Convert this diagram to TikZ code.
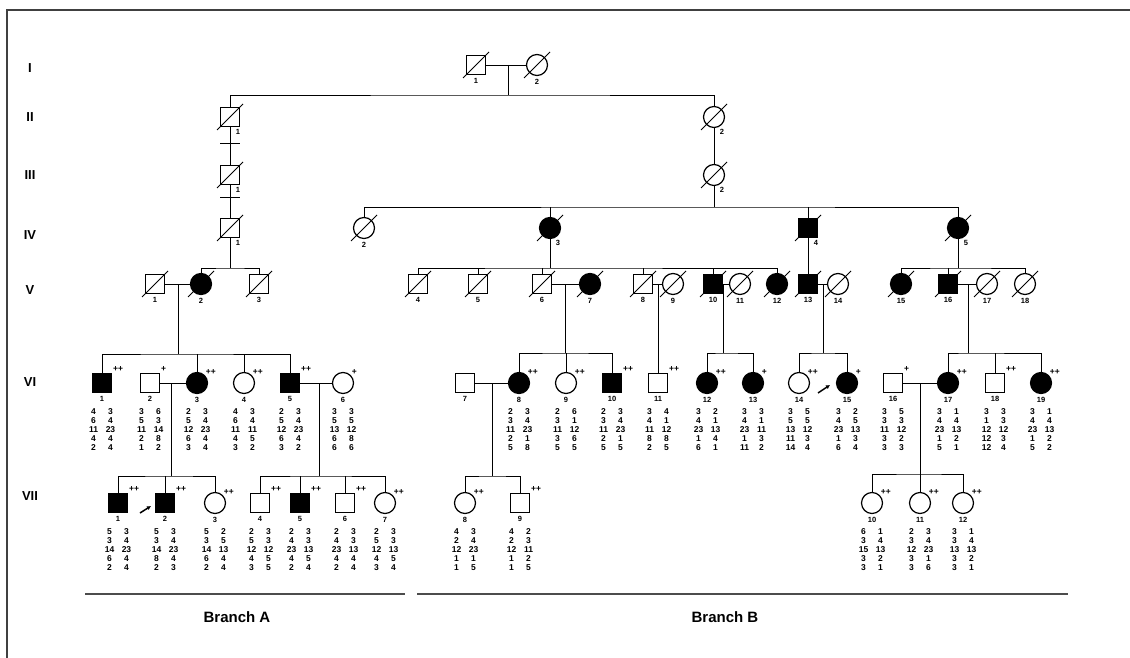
\documentclass[tikz,border=0pt]{standalone}
\usepackage{fontspec}
\setmainfont{Liberation Sans}
\usetikzlibrary{arrows.meta, positioning}
\tikzset{
  male/.style={rectangle, draw, minimum size=19pt, inner sep=0pt, line width=1.2pt},
  female/.style={circle, draw, minimum size=21pt, inner sep=0pt, line width=1.2pt},
  aff/.style={fill=black},
  numlab/.style={font=\fontsize{7.5}{8}\selectfont\bfseries, inner sep=0pt},
  idn/.style={label={[numlab, label distance=3pt]below:#1}},
  idr/.style={label={[numlab, label distance=2pt]-65:#1}},
  stat/.style={label={[font=\fontsize{8.5}{9}\selectfont\bfseries, inner sep=0pt, label distance=1pt]45:#1}},
  hapcol/.style={font=\fontsize{8.5}{9}\selectfont\bfseries, align=center, inner sep=0pt, anchor=north},
  genlab/.style={font=\fontsize{13}{14}\selectfont\bfseries, inner sep=0pt},
  branchlab/.style={font=\fontsize{15}{16}\selectfont\bfseries, inner sep=0pt},
  slash/.style={line width=0.9pt},
  proband/.style={line width=1.5pt, -{Latex[length=4pt, width=4.5pt]}}
}
\newcommand{\haplo}[3]{%
  \node (#1a) [hapcol] at ([xshift=-8.5pt, yshift=-25pt]#1.center) {#2};
  \node (#1b) [hapcol] at ([xshift=8.5pt, yshift=-25pt]#1.center) {#3};
}

\begin{document}
\begin{tikzpicture}[x=1pt, y=-1pt, line width=0.8pt]
  \useasboundingbox (0,0) rectangle (1130,658);
  \draw[line width=1.3pt, black!75] (7,658) -- (7,10) -- (1130,10);

  % generation labels
  \node (gI)   [genlab] at (30,68)  {I};
  \node (gII)  [genlab] at (30,117) {II};
  \node (gIII) [genlab] at (30,175) {III};
  \node (gIV)  [genlab] at (30,235) {IV};
  \node (gV)   [genlab] at (30,290) {V};
  \node (gVI)  [genlab] at (30,382) {VI};
  \node (gVII) [genlab] at (30,496) {VII};

  % generation I - IV
  \node (I1)   [male, idn=1]   at (476,65) {};
  \node (I2)   [female, idn=2] at (537,65) {};
  \node (II1)  [male, idr=1]   at (230,117) {};
  \node (II2)  [female, idr=2] at (714,117) {};
  \node (III1) [male, idr=1]   at (230,175) {};
  \node (III2) [female, idr=2] at (714,175) {};
  \node (IV1)  [male, idr=1]   at (230,228) {};
  \node (IV2)  [female, idn=2] at (364,228) {};
  \node (IV3)  [female, aff, idr=3] at (550,228) {};
  \node (IV4)  [male, aff, idr=4]   at (808,228) {};
  \node (IV5)  [female, aff, idr=5] at (958,228) {};

  % generation V
  \node (V1)  [male, idn=1]        at (155,284) {};
  \node (V2)  [female, aff, idn=2] at (201,284) {};
  \node (V3)  [male, idn=3]        at (259,284) {};
  \node (V4)  [male, idn=4]        at (418,284) {};
  \node (V5)  [male, idn=5]        at (478,284) {};
  \node (V6)  [male, idn=6]        at (542,284) {};
  \node (V7)  [female, aff, idn=7] at (590,284) {};
  \node (V8)  [male, idn=8]        at (643,284) {};
  \node (V9)  [female, idn=9]      at (673,284) {};
  \node (V10) [male, aff, idn=10]  at (713,284) {};
  \node (V11) [female, idn=11]     at (740,284) {};
  \node (V12) [female, aff, idn=12] at (777,284) {};
  \node (V13) [male, aff, idn=13]  at (808,284) {};
  \node (V14) [female, idn=14]     at (838,284) {};
  \node (V15) [female, aff, idn=15] at (901,284) {};
  \node (V16) [male, aff, idn=16]  at (948,284) {};
  \node (V17) [female, idn=17]     at (987,284) {};
  \node (V18) [female, idn=18]     at (1025,284) {};

  % generation VI
  \node (VI1)  [male, aff, idn=1, stat=++]    at (102,383) {};
  \node (VI2)  [male, idn=2, stat=+]          at (150,383) {};
  \node (VI3)  [female, aff, idn=3, stat=++]  at (197,383) {};
  \node (VI4)  [female, idn=4, stat=++]       at (244,383) {};
  \node (VI5)  [male, aff, idn=5, stat=++]    at (290,383) {};
  \node (VI6)  [female, idn=6, stat=+]        at (343,383) {};
  \node (VI7)  [male, idn=7]                  at (465,383) {};
  \node (VI8)  [female, aff, idn=8, stat=++]  at (519,383) {};
  \node (VI9)  [female, idn=9, stat=++]       at (566,383) {};
  \node (VI10) [male, aff, idn=10, stat=++]   at (612,383) {};
  \node (VI11) [male, idn=11, stat=++]        at (658,383) {};
  \node (VI12) [female, aff, idn=12, stat=++] at (707,383) {};
  \node (VI13) [female, aff, idn=13, stat=+]  at (753,383) {};
  \node (VI14) [female, idn=14, stat=++]      at (799,383) {};
  \node (VI15) [female, aff, idn=15, stat=+]  at (847,383) {};
  \node (VI16) [male, idn=16, stat=+]         at (893,383) {};
  \node (VI17) [female, aff, idn=17, stat=++] at (948,383) {};
  \node (VI18) [male, idn=18, stat=++]        at (995,383) {};
  \node (VI19) [female, aff, idn=19, stat=++] at (1041,383) {};

  % generation VII
  \node (VII1)  [male, aff, idn=1, stat=++] at (118,503) {};
  \node (VII2)  [male, aff, idn=2, stat=++] at (165,503) {};
  \node (VII3)  [female, idn=3, stat=++]    at (215,503) {};
  \node (VII4)  [male, idn=4, stat=++]      at (260,503) {};
  \node (VII5)  [male, aff, idn=5, stat=++] at (300,503) {};
  \node (VII6)  [male, idn=6, stat=++]      at (345,503) {};
  \node (VII7)  [female, idn=7, stat=++]    at (385,503) {};
  \node (VII8)  [female, idn=8, stat=++]    at (465,503) {};
  \node (VII9)  [male, idn=9, stat=++]      at (520,503) {};
  \node (VII10) [female, idn=10, stat=++]   at (872,503) {};
  \node (VII11) [female, idn=11, stat=++]   at (920,503) {};
  \node (VII12) [female, idn=12, stat=++]   at (963,503) {};

  % deceased
  \foreach \p in {I1,I2,II1,II2,III1,III2,IV1,IV2,IV3,IV4,IV5,
                  V1,V2,V3,V4,V5,V6,V7,V8,V9,V10,V11,V12,V13,V14,V15,V16,V17,V18}
    \draw[slash] ([xshift=-13pt, yshift=-13pt]\p.center) -- ([xshift=13pt, yshift=13pt]\p.center);

  % line points
  \coordinate (mI)    at (508,65);
  \coordinate (sII)   at (508,95);
  \coordinate (barA)  at (230,143);
  \coordinate (barB)  at (230,197);
  \coordinate (sIV)   at (714,207);
  \coordinate (sVa)   at (230,268);
  \coordinate (sVb)   at (550,268);
  \coordinate (sVc)   at (958,268);
  \coordinate (mV1)   at (178,284);
  \coordinate (mV6)   at (565,284);
  \coordinate (mV8)   at (658,284);
  \coordinate (mV10)  at (723,284);
  \coordinate (mV13)  at (823,284);
  \coordinate (mV16)  at (968,284);
  \coordinate (sVIa)  at (178,354);
  \coordinate (sVIb)  at (565,353);
  \coordinate (sVIc)  at (723,353);
  \coordinate (sVId)  at (823,353);
  \coordinate (sVIe)  at (968,353);
  \coordinate (mVI2)  at (171,383);
  \coordinate (mVI5)  at (319,383);
  \coordinate (mVI7)  at (492,383);
  \coordinate (mVI16) at (920,383);
  \coordinate (sVIIa) at (171,476);
  \coordinate (sVIIb) at (319,476);
  \coordinate (sVIIc) at (492,476);
  \coordinate (sVIId) at (920,474);

  % generations I - V
  \draw (I1) -- (I2);
  \draw (mI) -- (sII);
  \draw (II1) |- (sII) -| (II2);
  \draw (II1) -- (III1);
  \draw ([xshift=-10pt]barA) -- ([xshift=10pt]barA);
  \draw (III1) -- (IV1);
  \draw ([xshift=-10pt]barB) -- ([xshift=10pt]barB);
  \draw (II2) -- (III2);
  \draw (III2) -- (sIV);
  \draw (IV2) |- (sIV) -| (IV5);
  \draw (IV3) -- (IV3 |- sIV);
  \draw (IV4) -- (IV4 |- sIV);
  \draw (IV1) -- (sVa);
  \draw (V2) |- (sVa) -| (V3);
  \draw (IV3) -- (sVb);
  \draw (V4) |- (sVb) -| (V12);
  \foreach \c in {V5,V6,V8,V10}
    \draw (\c) -- (\c |- sVb);
  \draw (IV4) -- (V13);
  \draw (IV5) -- (sVc);
  \draw (V15) |- (sVc) -| (V18);
  \draw (V16) -- (V16 |- sVc);

  % marriages and sibships V - VII
  \draw (V1) -- (V2);
  \draw (V6) -- (V7);
  \draw (V8) -- (V9);
  \draw (V10) -- (V11);
  \draw (V13) -- (V14);
  \draw (V16) -- (V17);
  \draw (mV1) -- (sVIa);
  \draw (VI1) |- (sVIa) -| (VI5);
  \draw (VI3) -- (VI3 |- sVIa);
  \draw (VI4) -- (VI4 |- sVIa);
  \draw (mV6) -- (sVIb);
  \draw (VI8) |- (sVIb) -| (VI10);
  \draw (VI9) -- (VI9 |- sVIb);
  \draw (mV8) -- (VI11);
  \draw (mV10) -- (sVIc);
  \draw (VI12) |- (sVIc) -| (VI13);
  \draw (mV13) -- (sVId);
  \draw (VI14) |- (sVId) -| (VI15);
  \draw (mV16) -- (sVIe);
  \draw (VI17) |- (sVIe) -| (VI19);
  \draw (VI18) -- (VI18 |- sVIe);

  \draw (VI2) -- (VI3);
  \draw (VI5) -- (VI6);
  \draw (VI7) -- (VI8);
  \draw (VI16) -- (VI17);
  \draw (mVI2) -- (sVIIa);
  \draw (VII1) |- (sVIIa) -| (VII3);
  \draw (VII2) -- (VII2 |- sVIIa);
  \draw (mVI5) -- (sVIIb);
  \draw (VII4) |- (sVIIb) -| (VII7);
  \draw (VII5) -- (VII5 |- sVIIb);
  \draw (VII6) -- (VII6 |- sVIIb);
  \draw (mVI7) -- (sVIIc);
  \draw (VII8) |- (sVIIc) -| (VII9);
  \draw (mVI16) -- (sVIId);
  \draw (VII10) |- (sVIId) -| (VII12);
  \draw (VII11) -- (VII11 |- sVIId);

  % probands
  \draw[proband] ([xshift=-25pt, yshift=-10pt]VII2.center) -- ([xshift=-14pt, yshift=-3pt]VII2.center);
  \draw[proband] ([xshift=-29pt, yshift=-10pt]VI15.center) -- ([xshift=-17pt, yshift=-2pt]VI15.center);

  % haplotypes
  \haplo{VI1}{4\\6\\11\\4\\2}{3\\4\\23\\4\\4}
  \haplo{VI2}{3\\5\\11\\2\\1}{6\\3\\14\\8\\2}
  \haplo{VI3}{2\\5\\12\\6\\3}{3\\4\\23\\4\\4}
  \haplo{VI4}{4\\6\\11\\4\\3}{3\\4\\11\\5\\2}
  \haplo{VI5}{2\\5\\12\\6\\3}{3\\4\\23\\4\\2}
  \haplo{VI6}{3\\5\\13\\6\\6}{3\\5\\12\\8\\6}
  \haplo{VI8}{2\\3\\11\\2\\5}{3\\4\\23\\1\\8}
  \haplo{VI9}{2\\3\\11\\3\\5}{6\\1\\12\\6\\5}
  \haplo{VI10}{2\\3\\11\\2\\5}{3\\4\\23\\1\\5}
  \haplo{VI11}{3\\4\\11\\8\\2}{4\\1\\12\\8\\5}
  \haplo{VI12}{3\\4\\23\\1\\6}{2\\1\\13\\4\\1}
  \haplo{VI13}{3\\4\\23\\1\\11}{3\\1\\11\\3\\2}
  \haplo{VI14}{3\\5\\13\\11\\14}{5\\5\\12\\3\\4}
  \haplo{VI15}{3\\4\\23\\1\\6}{2\\5\\13\\3\\4}
  \haplo{VI16}{3\\3\\11\\3\\3}{5\\3\\12\\2\\3}
  \haplo{VI17}{3\\4\\23\\1\\5}{1\\4\\13\\2\\1}
  \haplo{VI18}{3\\1\\12\\12\\12}{3\\3\\12\\3\\4}
  \haplo{VI19}{3\\4\\23\\1\\5}{1\\4\\13\\2\\2}
  \haplo{VII1}{5\\3\\14\\6\\2}{3\\4\\23\\4\\4}
  \haplo{VII2}{5\\3\\14\\8\\2}{3\\4\\23\\4\\3}
  \haplo{VII3}{5\\3\\14\\6\\2}{2\\5\\13\\4\\4}
  \haplo{VII4}{2\\5\\12\\4\\3}{3\\3\\12\\5\\5}
  \haplo{VII5}{2\\4\\23\\4\\2}{3\\3\\13\\5\\4}
  \haplo{VII6}{2\\4\\23\\4\\2}{3\\3\\13\\4\\4}
  \haplo{VII7}{2\\5\\12\\4\\3}{3\\3\\13\\5\\4}
  \haplo{VII8}{4\\2\\12\\1\\1}{3\\4\\23\\1\\5}
  \haplo{VII9}{4\\2\\12\\1\\1}{2\\3\\11\\2\\5}
  \haplo{VII10}{6\\3\\15\\3\\3}{1\\4\\13\\2\\1}
  \haplo{VII11}{2\\3\\12\\3\\3}{3\\4\\23\\1\\6}
  \haplo{VII12}{3\\3\\13\\3\\3}{1\\4\\13\\2\\1}

  % branches
  \coordinate (brA1) at (85,594);
  \coordinate (brA2) at (405,594);
  \coordinate (brB1) at (417,594);
  \coordinate (brB2) at (1068,594);
  \draw[line width=1.1pt, black!70] (brA1) -- (brA2);
  \draw[line width=1.1pt, black!70] (brB1) -- (brB2);
  \node (brA) [branchlab] at (237,617) {Branch A};
  \node (brB) [branchlab] at (725,617) {Branch B};
\end{tikzpicture}
\end{document}
